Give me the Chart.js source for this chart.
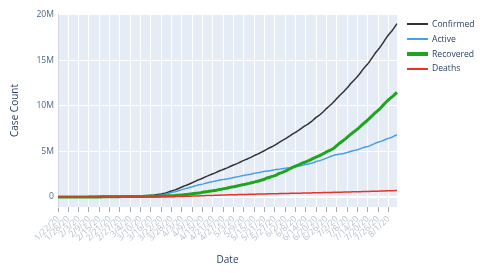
<!DOCTYPE html>
<html>
<head>
<meta charset="utf-8">
<script src="https://cdn.jsdelivr.net/npm/chart.js@4.4.1/dist/chart.umd.min.js"></script>
<style>
  html,body{margin:0;padding:0;background:#fff;}
  #wrap{position:relative;width:480px;height:273px;}
  #legend{position:absolute;left:407px;top:17px;font-family:"Open Sans",sans-serif;font-size:8.6px;color:#2a3f5f;}
  .item{position:relative;height:14.8px;line-height:14.8px;white-space:nowrap;}
  .sw{position:absolute;left:0;width:21px;}
  .lbl{position:absolute;left:25px;top:0;}
</style>
</head>
<body>
<div id="wrap">
<canvas id="c" width="480" height="273"></canvas>
<div id="legend"></div>
</div>
<script>
// Dates (categories)
const dates = [
"1/22/20","1/23/20","1/24/20","1/25/20","1/26/20","1/27/20","1/28/20","1/29/20","1/30/20","1/31/20",
"2/1/20","2/2/20","2/3/20","2/4/20","2/5/20","2/6/20","2/7/20","2/8/20","2/9/20","2/10/20","2/11/20","2/12/20","2/13/20","2/14/20","2/15/20","2/16/20","2/17/20","2/18/20","2/19/20","2/20/20","2/21/20","2/22/20","2/23/20","2/24/20","2/25/20","2/26/20","2/27/20","2/28/20","2/29/20",
"3/1/20","3/2/20","3/3/20","3/4/20","3/5/20","3/6/20","3/7/20","3/8/20","3/9/20","3/10/20","3/11/20","3/12/20","3/13/20","3/14/20","3/15/20","3/16/20","3/17/20","3/18/20","3/19/20","3/20/20","3/21/20","3/22/20","3/23/20","3/24/20","3/25/20","3/26/20","3/27/20","3/28/20","3/29/20","3/30/20","3/31/20",
"4/1/20","4/2/20","4/3/20","4/4/20","4/5/20","4/6/20","4/7/20","4/8/20","4/9/20","4/10/20","4/11/20","4/12/20","4/13/20","4/14/20","4/15/20","4/16/20","4/17/20","4/18/20","4/19/20","4/20/20","4/21/20","4/22/20","4/23/20","4/24/20","4/25/20","4/26/20","4/27/20","4/28/20","4/29/20","4/30/20",
"5/1/20","5/2/20","5/3/20","5/4/20","5/5/20","5/6/20","5/7/20","5/8/20","5/9/20","5/10/20","5/11/20","5/12/20","5/13/20","5/14/20","5/15/20","5/16/20","5/17/20","5/18/20","5/19/20","5/20/20","5/21/20","5/22/20","5/23/20","5/24/20","5/25/20","5/26/20","5/27/20","5/28/20","5/29/20","5/30/20","5/31/20",
"6/1/20","6/2/20","6/3/20","6/4/20","6/5/20","6/6/20","6/7/20","6/8/20","6/9/20","6/10/20","6/11/20","6/12/20","6/13/20","6/14/20","6/15/20","6/16/20","6/17/20","6/18/20","6/19/20","6/20/20","6/21/20","6/22/20","6/23/20","6/24/20","6/25/20","6/26/20","6/27/20","6/28/20","6/29/20","6/30/20",
"7/1/20","7/2/20","7/3/20","7/4/20","7/5/20","7/6/20","7/7/20","7/8/20","7/9/20","7/10/20","7/11/20","7/12/20","7/13/20","7/14/20","7/15/20","7/16/20","7/17/20","7/18/20","7/19/20","7/20/20","7/21/20","7/22/20","7/23/20","7/24/20","7/25/20","7/26/20","7/27/20","7/28/20","7/29/20","7/30/20","7/31/20",
"8/1/20","8/2/20","8/3/20","8/4/20","8/5/20","8/6/20"
];

// Series values, in thousands of cases
const confirmed = [
0.555,0.654,0.941,1.434,2.118,2.927,5.578,6.166,8.234,9.927,
12.04,16.79,19.89,23.90,27.64,30.80,34.40,37.13,40.16,42.77,44.81,45.23,60.38,66.91,69.05,71.24,73.27,75.15,75.65,76.21,76.84,78.60,78.99,79.57,80.42,81.40,82.76,84.12,86.01,
88.37,90.31,92.84,95.12,97.89,101.8,105.8,109.8,113.6,118.6,125.9,128.3,145.2,156.1,167.4,181.5,197.1,214.9,242.7,272.2,304.5,336.0,378.3,418.0,467.7,529.6,593.3,660.7,720.1,782.4,857.5,
932.6,1013,1096,1176,1250,1321,1396,1480,1565,1658,1736,1835,1905,1976,2056,2152,2240,2318,2401,2472,2549,2624,2709,2796,2881,2955,3024,3097,3172,3257,
3344,3428,3507,3583,3663,3755,3846,3938,4024,4102,4178,4262,4347,4442,4542,4634,4714,4802,4897,4996,5102,5211,5310,5408,5495,5590,5692,5809,5930,6059,6167,
6266,6378,6500,6630,6750,6880,6990,7100,7220,7350,7480,7610,7750,7870,7980,8120,8260,8400,8580,8740,8870,9000,9170,9340,9520,9710,9890,10050,10220,10400,
10610,10820,11020,11200,11390,11560,11770,11980,12200,12430,12640,12830,13020,13230,13460,13710,13960,14200,14410,14620,14860,15140,15420,15700,15960,16180,16420,16680,16960,17250,17540,
17790,18010,18230,18490,18770,19050
];
const active = [
0.51,0.61,0.88,1.35,2.01,2.79,5.34,5.90,7.92,9.49,
11.50,15.96,18.84,22.58,25.96,28.68,31.67,33.70,36.01,37.81,39.02,38.96,52.71,57.29,57.98,58.57,58.80,58.74,57.43,55.96,55.69,53.24,52.72,49.04,47.31,45.33,43.25,41.45,40.37,
42.37,41.62,41.48,40.67,40.74,42.44,43.84,45.3,47.11,49.94,54.28,55.28,69.5,77.68,84.96,96.27,108.39,122.87,147.93,173.5,199.83,223.48,263.5,291.68,332.72,383.43,435.2,490.65,537.07,580.22,637.39,
692.4,749.8,811.2,865.4,920.6,970.4,1014.1,1063.7,1116.5,1179.5,1225.5,1299.9,1336.5,1376.1,1411.8,1467.2,1518.2,1566.5,1613,1657.1,1693.4,1730.3,1780.6,1814.9,1861.2,1903.4,1919.8,1955.3,1981.9,2009.6,
2052.4,2091.2,2134.5,2169.5,2207.7,2247,2292.3,2334,2370.3,2410.7,2436.3,2476.9,2505.5,2552.3,2598,2629.2,2665.8,2697.2,2735.4,2770.3,2820.3,2816,2854.6,2893.6,2916.3,2952.3,2985,3033.4,3016.4,3062.2,3112.1,
3138.6,3159,3197.5,3197.4,3222.8,3248.7,3275.8,3312.6,3347.6,3392.8,3427.8,3473.4,3529,3575.8,3602.4,3655.5,3700.3,3735,3820.5,3895.8,3941.8,3988.5,4053.3,4117.9,4191.1,4265.9,4351.7,4428.4,4495,4560,
4634.9,4650,4685,4710.7,4756.9,4783.3,4837.3,4881.8,4936.4,5001,5055.9,5101.9,5138.4,5193,5257.5,5321.9,5396.6,5461.4,5517.4,5553.5,5607.6,5700.1,5783.4,5867,5961.6,6018,6083,6136.6,6209.8,6293.6,6377.3,
6441.4,6497,6563,6656.3,6749.4,6842.7
];
const recovered = [
0.03,0.03,0.04,0.04,0.05,0.06,0.11,0.13,0.14,0.22,
0.28,0.47,0.62,0.83,1.12,1.49,2.01,2.62,3.24,3.95,4.68,5.15,6.3,8.1,9.4,10.9,12.6,14.4,16.1,18.0,18.9,22.9,23.8,27.9,30.4,33.3,36.7,39.8,42.7,
43.0,45.6,48.2,51.2,53.8,55.9,58.4,60.7,62.5,64.4,67.0,68.3,70.3,72.6,76.0,78.1,80.8,83.3,84.9,87.4,91.7,97.9,98.3,107.7,113.8,122.2,130.9,139.4,149.1,164.6,178.0,
193,210,226,246,260,276,300,328,353,376,402,421,449,474,510,541,568,592,623,645,679,710,738,784,817,845,893,924,962,1014,
1053,1093,1125,1162,1198,1245,1285,1330,1375,1409,1456,1494,1545,1588,1637,1693,1733,1786,1838,1897,1948,2056,2112,2168,2231,2286,2350,2414,2547,2626,2681,
2750,2837,2915,3040,3130,3230,3310,3380,3460,3540,3630,3710,3790,3860,3940,4020,4110,4210,4300,4380,4460,4540,4640,4740,4840,4950,5040,5120,5220,5330,
5460,5650,5810,5960,6100,6240,6390,6550,6710,6870,7020,7160,7310,7460,7620,7800,7970,8140,8290,8460,8640,8820,9010,9200,9360,9520,9690,9890,10090,10290,10490,
10670,10830,10980,11140,11320,11500
];
const deaths = [
0.017,0.018,0.026,0.042,0.056,0.082,0.131,0.133,0.171,0.213,
0.259,0.362,0.426,0.492,0.564,0.634,0.719,0.806,0.906,1.013,1.113,1.118,1.371,1.523,1.666,1.770,1.868,2.007,2.122,2.247,2.251,2.458,2.469,2.629,2.708,2.770,2.814,2.872,2.941,
2.996,3.085,3.160,3.254,3.348,3.460,3.558,3.802,3.988,4.262,4.615,4.720,5.404,5.819,6.440,7.126,7.905,8.733,9.867,11.299,12.973,14.623,16.497,18.615,21.181,23.970,27.198,30.652,33.925,37.582,42.107,
47.2,53.2,58.8,64.6,69.4,74.6,81.9,88.3,95.5,102.5,108.5,114.1,119.5,125.9,134.2,143.8,153.8,159.5,165.0,169.9,176.6,183.7,190.4,197.1,202.8,206.6,211.2,217.7,228.1,233.4,
238.6,243.8,247.5,251.5,257.3,263.0,268.7,274.0,278.7,282.3,285.7,291.1,296.5,301.7,307.0,311.8,315.2,318.8,323.6,328.7,333.7,339.0,343.4,346.4,347.7,351.7,357.0,361.6,366.6,370.8,373.9,
377.4,382.0,387.5,392.6,397.2,401.3,404.2,407.4,412.4,417.2,422.2,426.6,431.0,434.2,437.6,444.5,449.7,455.0,459.5,464.2,468.2,471.5,476.7,482.1,488.9,494.1,498.3,501.6,505.0,510.0,
515.1,520.0,525.0,529.3,533.1,536.7,542.7,548.2,553.6,559.0,564.1,568.1,571.6,577.0,582.5,588.1,593.4,598.6,602.6,606.5,612.4,619.9,626.6,633.0,638.4,642.0,647.0,653.4,660.2,666.4,672.7,
678.6,683.0,687.0,693.7,700.6,707.3
];

// Tick labels
const xTickLabels = ["1/22/20","1/28/20","2/3/20","2/9/20","2/15/20","2/21/20","2/27/20","3/4/20","3/10/20","3/16/20","3/22/20","3/28/20","4/3/20","4/9/20","4/15/20","4/21/20","4/27/20","5/3/20","5/9/20","5/15/20","5/21/20","5/27/20","6/2/20","6/8/20","6/14/20","6/20/20","6/26/20","7/2/20","7/8/20","7/14/20","7/20/20","7/26/20","8/1/20"];
const yTickValues = [0, 5000, 10000, 15000, 20000];
const yTickLabels = ["0", "5M", "10M", "15M", "20M"];

const seriesNames = ["Confirmed", "Active", "Recovered", "Deaths"];
const seriesColors = ["#333333", "#4a9ee6", "#1ea51e", "#e8322c"];
const seriesWidths = [1.5, 1.5, 3, 1.5];
const legendWidths = [2, 1.5, 3.5, 1.5];
const seriesData = [confirmed, active, recovered, deaths];

const bgPlugin = {
  id: 'plotBg',
  beforeDraw(chart) {
    const {ctx, chartArea: a} = chart;
    ctx.save();
    ctx.fillStyle = '#e5ecf6';
    ctx.fillRect(a.left, a.top, a.right - a.left, a.bottom - a.top);
    ctx.restore();
  }
};

const FONT = '"Open Sans", sans-serif';

new Chart(document.getElementById('c'), {
  type: 'line',
  data: {
    labels: dates,
    datasets: seriesNames.map((n, i) => ({
      label: n,
      data: seriesData[i],
      borderColor: seriesColors[i],
      backgroundColor: seriesColors[i],
      borderWidth: seriesWidths[i],
      pointRadius: 0,
      tension: 0,
      fill: false,
      order: 3 - i,
      borderJoinStyle: 'round'
    }))
  },
  options: {
    responsive: false,
    animation: false,
    layout: { padding: { left: 0, right: 83, top: 14, bottom: 0 } },
    plugins: { legend: { display: false }, tooltip: { enabled: false } },
    scales: {
      x: {
        type: 'category',
        offset: false,
        border: { display: false },
        grid: {
          color: '#ffffff',
          lineWidth: 1,
          tickColor: '#a8a8a8',
          tickLength: 5,
          drawTicks: true
        },
        ticks: {
          autoSkip: false,
          maxRotation: 45,
          minRotation: 45,
          padding: 2,
          color: '#b9c1cc',
          font: { family: FONT, size: 8.6 },
          callback: function(v, i) { return (i % 6 === 0) ? xTickLabels[i / 6] : null; }
        },
        title: {
          display: true,
          text: 'Date',
          color: '#2a3f5f',
          font: { family: FONT, size: 10 },
          padding: { top: 0, bottom: 7 }
        },
        afterFit(s) { s.height = 66; s.paddingLeft = 0; s.paddingRight = 0; }
      },
      y: {
        min: -1100,
        max: 20100,
        border: { display: true, color: '#d4d8de', width: 1 },
        grid: {
          color: '#ffffff',
          lineWidth: (c) => (c.tick && c.tick.value === 0 ? 2 : 1),
          drawTicks: false
        },
        afterBuildTicks(s) { s.ticks = yTickValues.map(v => ({ value: v })); },
        ticks: {
          padding: 4,
          color: '#506784',
          font: { family: FONT, size: 8.6 },
          callback: function(v) { const k = yTickValues.indexOf(v); return k >= 0 ? yTickLabels[k] : null; }
        },
        title: {
          display: true,
          text: 'Case Count',
          color: '#2a3f5f',
          font: { family: FONT, size: 10 },
          padding: { top: 9, bottom: 0 }
        },
        afterFit(s) { s.width = 58; }
      }
    }
  },
  plugins: [bgPlugin]
});

// HTML legend built from the series
const lg = document.getElementById('legend');
seriesNames.forEach((n, i) => {
  const row = document.createElement('div');
  row.className = 'item';
  const sw = document.createElement('span');
  sw.className = 'sw';
  sw.style.height = legendWidths[i] + 'px';
  sw.style.top = (7.4 - legendWidths[i] / 2) + 'px';
  sw.style.background = seriesColors[i];
  const t = document.createElement('span');
  t.className = 'lbl';
  t.textContent = n;
  row.appendChild(sw);
  row.appendChild(t);
  lg.appendChild(row);
});
</script>
</body>
</html>
